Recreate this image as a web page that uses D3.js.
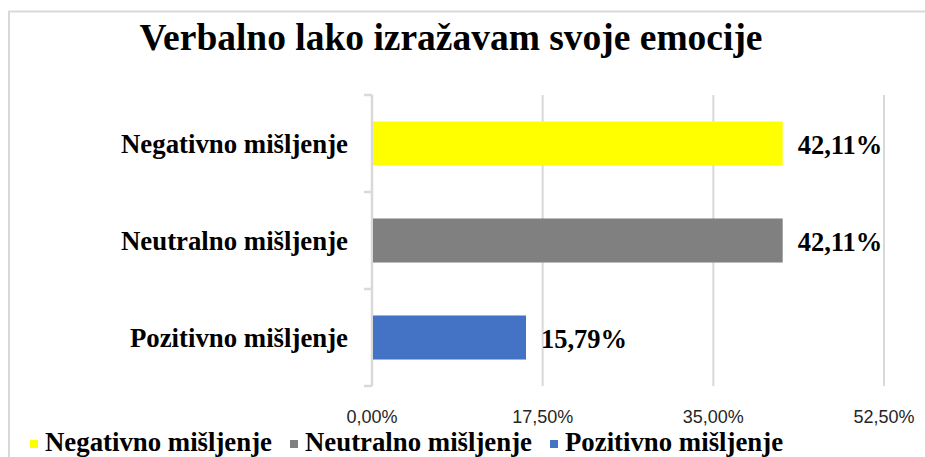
<!DOCTYPE html>
<html>
<head>
<meta charset="utf-8">
<script src="https://cdn.jsdelivr.net/npm/d3@7"></script>
<style>
  html, body { margin: 0; padding: 0; background: #fff; }
  svg { display: block; }
</style>
</head>
<body>
<script>
const title = "Verbalno lako izražavam svoje emocije";
const categories = ["Negativno mišljenje", "Neutralno mišljenje", "Pozitivno mišljenje"];
const values = [42.11, 42.11, 15.79];
const valueLabels = ["42,11%", "42,11%", "15,79%"];
const colors = ["#FFFF00", "#808080", "#4472C4"];
const tickValues = [0, 17.5, 35, 52.5];
const tickLabels = ["0,00%", "17,50%", "35,00%", "52,50%"];

const W = 925, H = 457;
const svg = d3.select("body").append("svg").attr("width", W).attr("height", H);

// chart frame
svg.append("rect").attr("x", 9).attr("y", 11.5).attr("width", 940).attr("height", 470)
  .attr("fill", "#fff").attr("stroke", "#d9d9d9").attr("stroke-width", 2);

const serif = "'Liberation Serif', 'Times New Roman', serif";
const sans = "'Liberation Sans Narrow', 'Liberation Sans', Arial, sans-serif";

svg.append("text").attr("x", 451).attr("y", 50).attr("text-anchor", "middle")
  .attr("font-family", serif).attr("font-weight", "bold").attr("font-size", 38)
  .attr("textLength", 623).attr("lengthAdjust", "spacingAndGlyphs")
  .attr("fill", "#000").text(title);

const x = d3.scaleLinear().domain([0, 52.5]).range([372, 884]);
const y = d3.scaleBand().domain(categories).range([95, 386]).paddingInner(0.546).paddingOuter(0.273);

// gridlines
svg.append("g").selectAll("line").data(tickValues.slice(1)).join("line")
  .attr("x1", d => x(d)).attr("x2", d => x(d)).attr("y1", 95).attr("y2", 386)
  .attr("stroke", "#d9d9d9").attr("stroke-width", 2);

// y axis line with ticks at band boundaries
const step = y.step();
const bounds = d3.range(categories.length + 1).map(i => 95 + i * step);
svg.append("line").attr("x1", x(0)).attr("x2", x(0)).attr("y1", 95).attr("y2", 386)
  .attr("stroke", "#d9d9d9").attr("stroke-width", 2.5);
svg.append("g").selectAll("line").data(bounds).join("line")
  .attr("x1", x(0) - 8).attr("x2", x(0)).attr("y1", d => d).attr("y2", d => d)
  .attr("stroke", "#d9d9d9").attr("stroke-width", 2.5);

// bars
svg.append("g").selectAll("rect").data(categories).join("rect")
  .attr("x", x(0) + 1).attr("y", d => y(d))
  .attr("width", (d, i) => x(values[i]) - x(0) - 1).attr("height", y.bandwidth())
  .attr("fill", (d, i) => colors[i]);

// category labels
svg.append("g").selectAll("text").data(categories).join("text")
  .attr("x", 348).attr("y", d => y(d) + y.bandwidth() / 2 + 9)
  .attr("text-anchor", "end").attr("font-family", serif).attr("font-weight", "bold")
  .attr("font-size", 26.8).attr("fill", "#000").text(d => d);

// value labels
svg.append("g").selectAll("text").data(categories).join("text")
  .attr("x", (d, i) => x(values[i]) + 15).attr("y", d => y(d) + y.bandwidth() / 2 + 10)
  .attr("font-family", serif).attr("font-weight", "bold")
  .attr("font-size", 26.5).attr("fill", "#000").text((d, i) => valueLabels[i]);

// x tick labels
svg.append("g").selectAll("text").data(tickValues).join("text")
  .attr("x", d => x(d)).attr("y", 423).attr("text-anchor", "middle")
  .attr("font-family", sans).attr("font-size", 18).attr("fill", "#262626")
  .text((d, i) => tickLabels[i]);

// legend
const lg = svg.append("g").selectAll("g").data(categories).join("g")
  .attr("transform", (d, i) => `translate(${30 + i * 260},0)`);
lg.append("rect").attr("x", 0).attr("y", 440).attr("width", 8).attr("height", 8)
  .attr("fill", (d, i) => colors[i]);
lg.append("text").attr("x", 15).attr("y", 450.5)
  .attr("font-family", serif).attr("font-weight", "bold").attr("font-size", 26.8)
  .attr("fill", "#000").text(d => d);
</script>
</body>
</html>
